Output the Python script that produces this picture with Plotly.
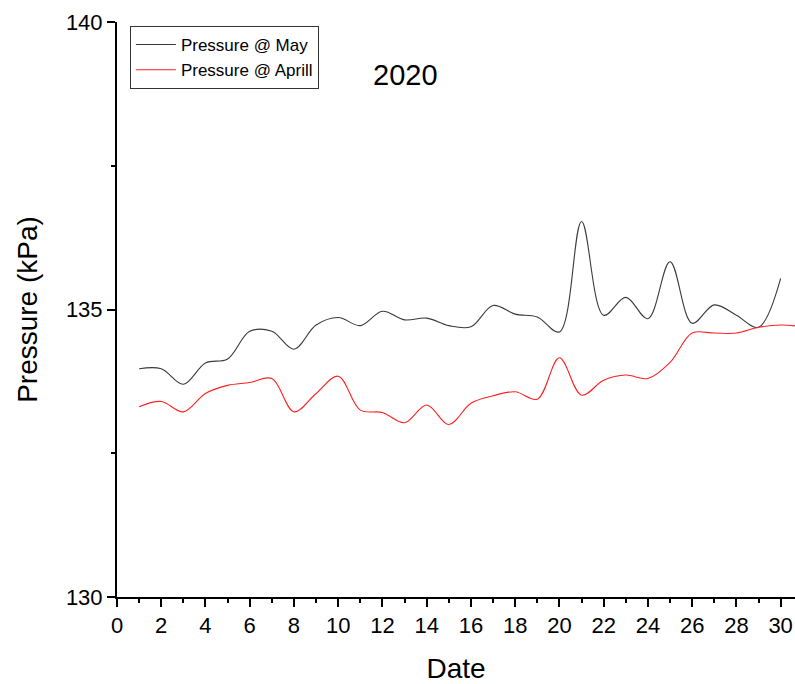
import plotly.graph_objects as go

days_may = list(range(1, 31))
pressure_may = [133.97, 133.97, 133.70, 134.07, 134.14, 134.62, 134.62, 134.31, 134.73, 134.86,
                134.72, 134.97, 134.82, 134.85, 134.72, 134.70, 135.07, 134.92, 134.87, 134.61,
                136.53, 134.90, 135.21, 134.84, 135.83, 134.76, 135.08, 134.90, 134.69, 135.54]

days_april = list(range(1, 32))
pressure_april = [133.31, 133.40, 133.22, 133.54, 133.68, 133.73, 133.80, 133.22, 133.54, 133.84,
                  133.25, 133.21, 133.03, 133.34, 133.00, 133.37, 133.50, 133.57, 133.44, 134.16,
                  133.51, 133.77, 133.86, 133.80, 134.08, 134.59, 134.59, 134.59, 134.69, 134.73,
                  134.70]

x_ticks = list(range(0, 31, 2))
y_ticks = [130, 135, 140]

FONT = "Liberation Sans, Arial, sans-serif"

fig = go.Figure()
fig.add_trace(go.Scatter(x=days_may, y=pressure_may, mode="lines", name="Pressure @ May",
                         line=dict(color="#3a3a3a", width=1.1, shape="spline", smoothing=1.0)))
fig.add_trace(go.Scatter(x=days_april, y=pressure_april, mode="lines", name="Pressure @ Aprill",
                         line=dict(color="#ff2020", width=1.1, shape="spline", smoothing=1.0)))

fig.update_layout(
    width=795, height=684,
    margin=dict(l=117, r=0, t=22, b=87, autoexpand=False),
    paper_bgcolor="white", plot_bgcolor="white",
    font=dict(family=FONT, color="black"),
    showlegend=True,
    legend=dict(x=0.019, y=0.993, xanchor="left", yanchor="top",
                bordercolor="#333", borderwidth=1, bgcolor="white",
                font=dict(size=17, family=FONT), tracegroupgap=0,
                itemwidth=40),
    annotations=[dict(text="2020", x=0.425, y=0.939, xref="paper", yref="paper",
                      showarrow=False, font=dict(size=29, family=FONT))],
)

fig.update_xaxes(
    range=[0, 30.65], tickmode="array", tickvals=x_ticks, automargin=False,
    showgrid=False, zeroline=False, showline=True, linecolor="black", linewidth=2,
    ticks="outside", ticklen=8, tickwidth=2, tickcolor="black",
    tickfont=dict(size=22, family=FONT),
    minor=dict(tickvals=list(range(1, 31, 2)), ticks="outside", ticklen=4, tickwidth=2, tickcolor="black"),
    title=dict(text="Date", font=dict(size=28, family=FONT), standoff=24),
)
fig.update_yaxes(
    range=[130, 140], tickmode="array", tickvals=y_ticks, automargin=False,
    showgrid=False, zeroline=False, showline=True, linecolor="black", linewidth=2,
    ticks="outside", ticklen=8, tickwidth=2, tickcolor="black",
    tickfont=dict(size=22, family=FONT),
    minor=dict(tickvals=[132.5, 137.5], ticks="outside", ticklen=4, tickwidth=2, tickcolor="black"),
    title=dict(text="Pressure (kPa)", font=dict(size=28, family=FONT), standoff=20),
)

fig.write_html("out.html", config={"displayModeBar": False},
               post_script="document.body.style.margin='0px';")
